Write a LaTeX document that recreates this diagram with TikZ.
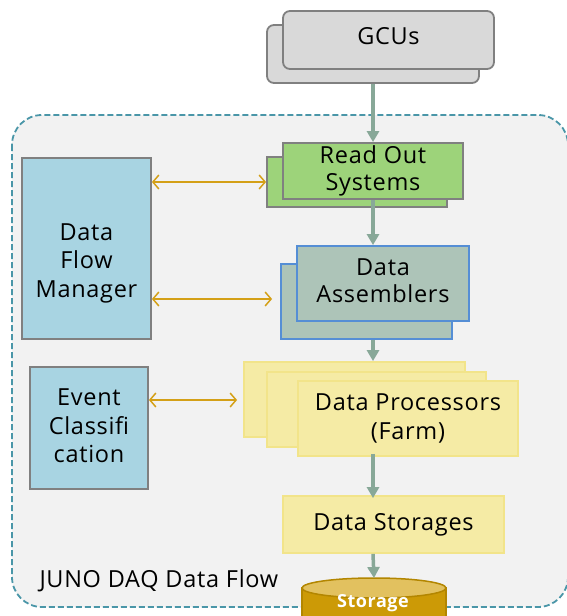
\documentclass[tikz,border=0pt]{standalone}
\usepackage{fontspec}
\setmainfont{Open Sans}[LetterSpace=3]
\usetikzlibrary{arrows.meta}
\definecolor{gcufill}{RGB}{217,217,217}
\definecolor{boxline}{RGB}{128,128,128}
\definecolor{rosfill}{RGB}{157,211,122}
\definecolor{dafill}{RGB}{173,196,184}
\definecolor{daline}{RGB}{85,142,213}
\definecolor{ctlfill}{RGB}{168,212,226}
\definecolor{dpfill}{RGB}{245,235,165}
\definecolor{dpline}{RGB}{242,228,138}
\definecolor{flowcol}{RGB}{136,168,152}
\definecolor{linkcol}{RGB}{212,160,23}
\definecolor{frame}{RGB}{74,150,168}
\definecolor{sttopcol}{RGB}{226,193,95}
\definecolor{stsidecol}{RGB}{204,154,6}
\definecolor{stline}{RGB}{179,134,0}

\begin{document}
\begin{tikzpicture}[x=1pt,y=-1pt,
  box/.style={inner sep=0pt, line width=1.8pt, align=center,
    font=\fontsize{23.5}{28.5}\selectfont},
  gcubox/.style={box, draw=boxline, fill=gcufill, rounded corners=7pt},
  rosbox/.style={box, draw=boxline, fill=rosfill},
  dabox/.style={box, draw=daline, fill=dafill},
  ctlbox/.style={box, draw=boxline, fill=ctlfill},
  dpbox/.style={box, draw=dpline, fill=dpfill},
  flow/.style={line width=3.5pt, flowcol, -{Triangle[length=11pt,width=12pt]}},
  link/.style={line width=1.5pt, linkcol, {Straight Barb[length=6pt,width=14pt]}-{Straight Barb[length=6pt,width=14pt]}}]
\useasboundingbox (0,0) rectangle (566,616);
\draw[line width=1.8pt, frame, dash pattern=on 6pt off 3pt, fill={rgb,255:red,242;green,242;blue,242}, rounded corners=30pt] (12,115) rectangle (568,607);

\node[gcubox, minimum width=212pt, minimum height=58pt] (gcub) at (373,54) {};
\node[gcubox, minimum width=211pt, minimum height=58pt, text depth=8pt] (gcu) at (388.5,40) {GCUs};

\node[rosbox, minimum width=180pt, minimum height=50pt] (rosb) at (357,182) {};
\node[rosbox, minimum width=180pt, minimum height=56pt] (ros) at (373,171) {Read Out\\[-1pt]Systems};

\node[dabox, minimum width=171pt, minimum height=75pt] (dab) at (366.5,301.5) {};
\node[dabox, minimum width=172pt, minimum height=75pt, text depth=6pt] (da) at (383,283.5) {Data\\[-2pt]Assemblers};

\node[ctlbox, minimum width=129pt, minimum height=181pt, text height=103pt] (dfm) at (86.5,248.5) {Data\\Flow\\Manager};
\node[ctlbox, minimum width=118pt, minimum height=122pt, text depth=4pt] (ev) at (89,428) {Event\\Classifi\\cation};

\node[dpbox, minimum width=221pt, minimum height=75pt] (dpa) at (354.5,399.5) {};
\node[dpbox, minimum width=219pt, minimum height=75pt] (dpb) at (376.5,409.5) {};
\node[dpbox, minimum width=220pt, minimum height=75pt] (dp) at (408,418.5) {Data Processors\\(Farm)};

\node[dpbox, minimum width=221pt, minimum height=57pt] (ds) at (393.5,524.5) {Data Storages};

\node[font=\fontsize{23.5}{28.5}\selectfont, anchor=base west] (title) at (36,587) {JUNO DAQ Data Flow};

\draw[line width=1.5pt, stline, fill=stsidecol] (302,588) -- (302,630) -- (446,630) -- (446,588) -- cycle;
\draw[line width=1.5pt, stline, fill=sttopcol] (374,588) ellipse [x radius=72pt, y radius=10pt];
\coordinate (sttop) at (374,578);
\node[white, font=\fontsize{18}{20}\selectfont\bfseries] (st) at (373,603) {Storage};

\draw[flow] (gcub.south) -- (ros.north);
\draw[flow] (ros.south) -- (ros.south |- da.north);
\draw[flow] (ros.south |- dab.south) -- (ros.south |- dpa.north);
\draw[flow] ([yshift=3pt]ros.south |- dp.south) -- ([yshift=-3pt]ros.south |- ds.north);
\draw[flow] (ros.south |- ds.south) -- (sttop);

\draw[link] (dfm.east |- rosb.west) -- (rosb.west);
\draw[link, shorten >=8pt] ([yshift=2.5pt]dfm.east |- dab.west) -- ([yshift=2.5pt]dab.west);
\draw[link, shorten >=6pt] ([yshift=-0.5pt]ev.east |- dpa.west) -- ([yshift=-0.5pt]dpa.west);
\end{tikzpicture}
\end{document}
